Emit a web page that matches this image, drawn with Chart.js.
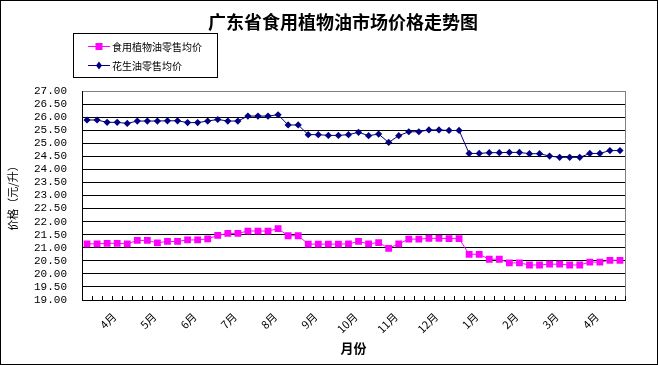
<!DOCTYPE html>
<html>
<head>
<meta charset="utf-8">
<script src="https://cdn.jsdelivr.net/npm/chart.js@4.4.0/dist/chart.umd.min.js"></script>
<style>
html,body{margin:0;padding:0;background:#fff;}
canvas{display:block;}
</style>
</head>
<body>
<canvas id="c" width="658" height="365"></canvas>
<script>
// ---- data ----
const chartTitle = "广东省食用植物油市场价格走势图";
const seriesNames = ["食用植物油零售均价", "花生油零售均价"];
const monthLabels = ["4月","5月","6月","7月","8月","9月","10月","11月","12月","1月","2月","3月","4月"];
const edibleOil = [21.15,21.15,21.17,21.17,21.15,21.28,21.28,21.19,21.24,21.24,
  21.30,21.30,21.34,21.47,21.55,21.55,21.64,21.64,21.64,21.73,
  21.46,21.46,21.14,21.14,21.14,21.14,21.15,21.24,21.15,21.20,
  20.98,21.15,21.33,21.33,21.36,21.36,21.35,21.35,20.75,20.75,
  20.56,20.56,20.42,20.42,20.34,20.34,20.37,20.37,20.34,20.34,
  20.45,20.45,20.52,20.52];
const peanutOil = [25.89,25.89,25.80,25.80,25.76,25.85,25.85,25.85,25.86,25.86,
  25.79,25.79,25.85,25.91,25.85,25.85,26.04,26.04,26.04,26.09,
  25.70,25.70,25.33,25.33,25.30,25.30,25.33,25.42,25.29,25.35,
  25.03,25.29,25.44,25.44,25.51,25.51,25.49,25.49,24.61,24.61,
  24.64,24.64,24.65,24.65,24.60,24.60,24.51,24.46,24.46,24.46,
  24.61,24.61,24.72,24.72];
const yMin = 19, yMax = 27, yStep = 0.5;
const xTitle = "月份";
const yTitle = "价格（元/升）";

// categories: one per observation, month label every 4th
const categories = edibleOil.map((_, i) => (i % 4 === 3 ? (monthLabels[(i - 3) / 4] || "") : ""));

const colors = ["#FF00FF", "#000080"];
const cjk = "'Noto Sans CJK SC', 'Noto Sans', sans-serif";

const decor = {
  id: 'decor',
  afterDraw(chart) {
    const ctx = chart.ctx;
    const a = chart.chartArea;
    const xs = chart.scales.x;
    ctx.save();
    // title
    ctx.fillStyle = '#000';
    ctx.font = "bold 18px " + cjk;
    ctx.textAlign = 'center';
    ctx.textBaseline = 'middle';
    ctx.fillText(chartTitle, 343, 22);
    // right border of plot (gray)
    ctx.strokeStyle = '#808080';
    ctx.lineWidth = 1;
    ctx.beginPath();
    ctx.moveTo(Math.round(a.right) + 0.5, a.top);
    ctx.lineTo(Math.round(a.right) + 0.5, a.bottom);
    ctx.stroke();
    // inner tick marks at category boundaries
    const step = xs.getPixelForValue(1) - xs.getPixelForValue(0);
    ctx.strokeStyle = '#000';
    ctx.beginPath();
    for (let i = 0; i <= categories.length; i++) {
      const x = Math.round(xs.getPixelForValue(i) - step / 2) + 0.5;
      ctx.moveTo(x, a.bottom - 4);
      ctx.lineTo(x, a.bottom);
    }
    ctx.stroke();
    // legend
    ctx.strokeStyle = '#000';
    ctx.strokeRect(73.5, 33.5, 144, 44);
    const rows = [46, 65];
    ctx.font = "10px " + cjk;
    ctx.textBaseline = 'middle';
    ctx.textAlign = 'left';
    rows.forEach((y, k) => {
      ctx.strokeStyle = colors[k];
      ctx.fillStyle = colors[k];
      ctx.beginPath();
      ctx.moveTo(88, y + 0.5);
      ctx.lineTo(110, y + 0.5);
      ctx.stroke();
      if (k === 0) {
        ctx.fillRect(95.5, y - 3, 7, 7);
      } else {
        ctx.beginPath();
        ctx.moveTo(99, y - 3.5);
        ctx.lineTo(102, y + 0.5);
        ctx.lineTo(99, y + 4.5);
        ctx.lineTo(96, y + 0.5);
        ctx.closePath();
        ctx.fill();
      }
      ctx.fillStyle = '#000';
      ctx.fillText(seriesNames[k], 112, y + 1);
    });
    // outer frame
    ctx.strokeStyle = '#000';
    ctx.strokeRect(0.5, 0.5, 657, 364);
    ctx.restore();
  }
};

new Chart(document.getElementById('c'), {
  type: 'line',
  data: {
    labels: categories,
    datasets: [
      {
        label: seriesNames[0],
        data: edibleOil,
        borderColor: colors[0],
        backgroundColor: colors[0],
        borderWidth: 1,
        pointStyle: 'rect',
        pointRadius: 4.8,
        pointBorderWidth: 0,
        tension: 0
      },
      {
        label: seriesNames[1],
        data: peanutOil,
        borderColor: colors[1],
        backgroundColor: colors[1],
        borderWidth: 1,
        pointStyle: 'rectRot',
        pointRadius: 3.6,
        pointBorderWidth: 0,
        tension: 0
      }
    ]
  },
  options: {
    responsive: false,
    animation: false,
    devicePixelRatio: 1,
    layout: { padding: { top: 91, right: 33, bottom: 0, left: 0 } },
    plugins: {
      legend: { display: false },
      tooltip: { enabled: false },
      title: { display: false }
    },
    scales: {
      x: {
        type: 'category',
        offset: true,
        grid: { display: false, drawTicks: false },
        border: { display: true, color: '#000', width: 1 },
        ticks: {
          autoSkip: false,
          maxRotation: 45,
          minRotation: 45,
          padding: 10,
          labelOffset: -3,
          color: '#000',
          font: { family: cjk, size: 11 }
        },
        title: {
          display: true,
          text: xTitle,
          color: '#000',
          font: { family: cjk, size: 13, weight: 'bold' },
          padding: 9
        },
        afterFit(s) { s.height = 65; }
      },
      y: {
        min: yMin,
        max: yMax,
        grid: {
          drawTicks: false,
          color: (c) => (c.tick && c.tick.value === yMax ? '#808080' : '#000'),
          lineWidth: 1
        },
        border: { display: true, color: '#000', width: 1 },
        ticks: {
          autoSkip: false,
          stepSize: yStep,
          padding: 15,
          color: '#000',
          font: { family: "'Liberation Mono', monospace", size: 11 },
          callback: (v) => Number(v).toFixed(2)
        },
        title: {
          display: true,
          text: yTitle,
          color: '#000',
          font: { family: cjk, size: 11 },
          padding: 6
        },
        afterFit(s) { s.width = 82; }
      }
    }
  },
  plugins: [decor]
});
</script>
</body>
</html>
